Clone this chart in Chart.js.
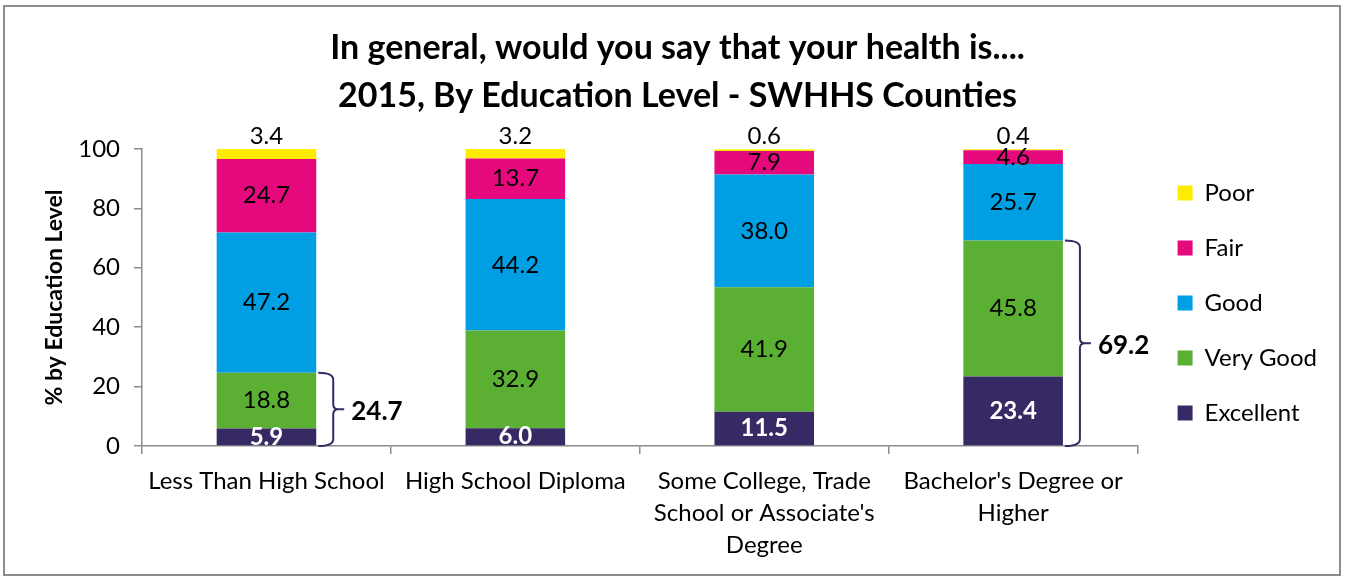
<!DOCTYPE html>
<html><head><meta charset="utf-8">
<script src="https://cdn.jsdelivr.net/npm/chart.js@4.4.0/dist/chart.umd.min.js"></script>
<style>html,body{margin:0;padding:0;background:#fff}#wrap{position:absolute;left:0;top:0;width:1345px;height:578px}</style>
</head><body><div id="wrap"><canvas id="c" width="1345" height="578"></canvas></div>
<script>
const categories = ["Less Than High School", "High School Diploma", ["Some College, Trade", "School or Associate's", "Degree"], ["Bachelor's Degree or", "Higher"]];
const seriesNames = ["Excellent", "Very Good", "Good", "Fair", "Poor"];
const excellent = [5.9, 6.0, 11.5, 23.4];
const veryGood = [18.8, 32.9, 41.9, 45.8];
const good = [47.2, 44.2, 38.0, 25.7];
const fair = [24.7, 13.7, 7.9, 4.6];
const poor = [3.4, 3.2, 0.6, 0.4];
const yTicks = [0, 20, 40, 60, 80, 100];
const bracketCategories = [0, 3];
const titleLines = ["In general, would you say that your health is....", "2015, By Education Level - SWHHS Counties"];
const yTitle = "% by Education Level";
const colors = ["#372963", "#5BB033", "#009FE3", "#E6097E", "#FFEC00"];

const FONT = "Lato";
const seriesData = [excellent, veryGood, good, fair, poor];

const frame = {
  id: 'frame',
  beforeDraw(chart) {
    const ctx = chart.ctx;
    ctx.save();
    ctx.fillStyle = '#fff';
    ctx.fillRect(0, 0, chart.width, chart.height);
    ctx.strokeStyle = '#8c8c8c';
    ctx.lineWidth = 2;
    ctx.strokeRect(4, 6, 1336, 569);
    ctx.restore();
  }
};

const legendShift = {
  id: 'legendShift',
  afterLayout(chart) {
    const l = chart.legend;
    l.left += 9; l.right += 9;
    l.top += 17; l.bottom += 17;
  }
};

const labels = {
  id: 'labels',
  afterDatasetsDraw(chart) {
    const ctx = chart.ctx;
    chart.data.datasets.forEach((ds, di) => {
      const meta = chart.getDatasetMeta(di);
      meta.data.forEach((bar, i) => {
        const txt = ds.data[i].toFixed(1);
        ctx.save();
        ctx.textAlign = 'center';
        ctx.textBaseline = 'middle';
        if (di === 0) { ctx.font = 'bold 24px ' + FONT; ctx.fillStyle = '#fff'; }
        else { ctx.font = '24px ' + FONT; ctx.fillStyle = '#000'; }
        const y = di === 4 ? bar.y - 13 : (bar.y + bar.base) / 2;
        ctx.fillText(txt, bar.x, y);
        ctx.restore();
      });
    });
    const ys = chart.scales.y;
    const m0 = chart.getDatasetMeta(0);
    bracketCategories.forEach(i => {
      const bar = m0.data[i];
      const total = excellent[i] + veryGood[i];
      const yTop = ys.getPixelForValue(total);
      const yBot = ys.getPixelForValue(0);
      const x0 = bar.x + bar.width / 2 + 2;
      const vx = x0 + 15;
      const mid = (yTop + yBot) / 2;
      ctx.save();
      ctx.strokeStyle = '#372963';
      ctx.lineWidth = 2;
      ctx.beginPath();
      ctx.moveTo(x0, yTop);
      ctx.quadraticCurveTo(vx, yTop, vx, yTop + 7);
      ctx.lineTo(vx, mid - 5);
      ctx.quadraticCurveTo(vx, mid, vx + 5, mid);
      ctx.lineTo(vx + 11, mid);
      ctx.moveTo(vx + 5, mid);
      ctx.quadraticCurveTo(vx, mid, vx, mid + 5);
      ctx.lineTo(vx, yBot - 7);
      ctx.quadraticCurveTo(vx, yBot, x0, yBot);
      ctx.stroke();
      ctx.font = 'bold 26px ' + FONT;
      ctx.fillStyle = '#000';
      ctx.textAlign = 'left';
      ctx.textBaseline = 'middle';
      ctx.fillText(total.toFixed(1), vx + 18, mid + 2);
      ctx.restore();
    });
  }
};

new Chart(document.getElementById('c'), {
  type: 'bar',
  data: {
    labels: categories,
    datasets: seriesNames.map((n, k) => ({
      label: n, data: seriesData[k], backgroundColor: colors[k],
      barPercentage: 0.8, categoryPercentage: 0.5, borderWidth: 0
    }))
  },
  options: {
    responsive: false, animation: false, devicePixelRatio: 1,
    layout: { padding: { left: 37, right: 27, top: 0, bottom: 6 } },
    plugins: {
      title: {
        display: true, text: titleLines, color: '#000',
        font: { family: FONT, size: 34, weight: 'bold', lineHeight: 1.41 },
        padding: { top: 24, bottom: 29 }
      },
      legend: {
        position: 'right', reverse: true,
        labels: { boxWidth: 15, boxHeight: 15, padding: 31, color: '#000', font: { family: FONT, size: 24 } }
      },
      tooltip: { enabled: false }
    },
    scales: {
      x: {
        stacked: true,
        border: { color: '#8c8c8c', width: 1.5 },
        grid: { drawOnChartArea: false, drawTicks: true, tickLength: 8, color: '#8c8c8c', lineWidth: 1.5 },
        ticks: { color: '#000', padding: 11, maxRotation: 0, autoSkip: false, font: { family: FONT, size: 24, lineHeight: 1.333 } }
      },
      y: {
        stacked: true, min: 0, max: 100,
        afterBuildTicks: s => { s.ticks = yTicks.map(v => ({ value: v })); },
        afterFit: s => { s.width = 105; },
        border: { color: '#8c8c8c', width: 1.5 },
        grid: { drawOnChartArea: false, drawTicks: true, tickLength: 8, color: '#8c8c8c', lineWidth: 1.5 },
        ticks: { color: '#000', padding: 14, font: { family: FONT, size: 24 } },
        title: { display: true, text: yTitle, color: '#000', font: { family: FONT, size: 23, weight: 'bold' }, padding: { top: 4, bottom: 4 } }
      }
    }
  },
  plugins: [frame, legendShift, labels]
});
</script></body></html>
